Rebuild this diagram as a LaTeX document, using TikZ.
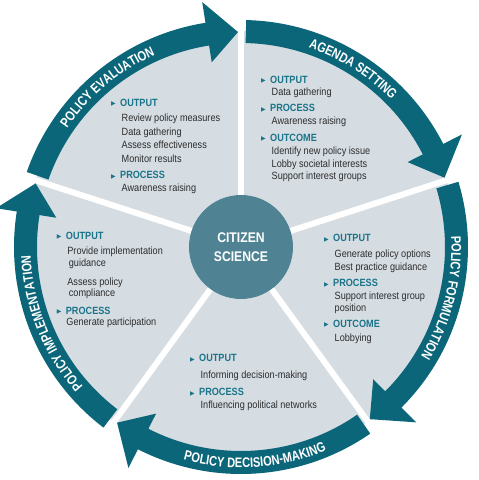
\documentclass[tikz,border=0pt]{standalone}
\usepackage{fontspec}
\setmainfont{Liberation Sans}[FakeStretch=0.87]
\newfontfamily\symfont{DejaVu Sans}
\newfontfamily\labelfont{Liberation Sans}[FakeStretch=0.8]
\usetikzlibrary{decorations.text}

\definecolor{arrowteal}{HTML}{0C667A}
\definecolor{headteal}{HTML}{1A7489}
\definecolor{hubteal}{HTML}{4F8393}
\definecolor{wheelgray}{HTML}{D5DDE3}
\definecolor{bodygray}{HTML}{2C2C2C}

% heading with pointer, and indent of the lines below it
\newcommand{\hd}[1]{\rule{0pt}{8pt}\textcolor{headteal}{\makebox[9pt][l]{\raisebox{0.6pt}{\symfont\fontsize{6}{6}\selectfont ▶}}\textbf{#1}}}
\newcommand{\bodyin}{\hspace*{10.5pt}}

\tikzset{
  block/.style={anchor=north west, inner sep=0, align=left, text=bodygray},
  hub/.style={circle, fill=hubteal, minimum size=104, inner sep=0, text=white,
    align=center, font=\fontsize{14}{19}\selectfont\bfseries},
  gap/.style={white, line width=6},
  bandlabel/.style={decorate, decoration={text along path, text align=center,
    text color=white, text={|\labelfont\fontsize{13.8}{13.8}\selectfont\bfseries|#1}}}
}

\begin{document}
\begin{tikzpicture}[x=1pt, y=1pt]
\useasboundingbox (-241,-233) rectangle (238,247);
%
% policy cycle round citizen science

%% wheel and the white gaps
\coordinate (o) at (0,0);
\fill[wheelgray] (o) circle (216);
\foreach \g in {162,90,18,-54,-126}
  \draw[gap] (o) -- (\g:240);
\node[hub] (hub) at (o) {CITIZEN\\SCIENCE};

%% arrows, clockwise, one per stage
\foreach \g in {162,90,18,-54,-126}{
  \pgfmathsetmacro{\tl}{\g-1.3}
  \pgfmathsetmacro{\hb}{\g-72+9}
  \pgfmathsetmacro{\tp}{\g-72+0.8}
  \fill[arrowteal] (\tl:227) arc (\tl:\hb:227) -- (\hb:248) -- (\tp:215)
    -- (\hb:187) -- (\hb:204) arc (\hb:\tl:204) -- cycle;
}

%% stage names
\path[bandlabel={POLICY EVALUATION}] (160.7:210.5) arc (160.7:99:210.5);
\path[bandlabel={AGENDA SETTING}] (88.7:210.5) arc (88.7:27:210.5);
\path[bandlabel={POLICY FORMULATION}] (16.7:210.5) arc (16.7:-45:210.5);
\path[bandlabel={POLICY DECISION-MAKING}] (-117:220.5) arc (-117:-55.3:220.5);
\path[bandlabel={POLICY IMPLEMENTATION}] (232.7:210.5) arc (232.7:171:210.5);

%% what citizen science gives at each stage
\node[block, font=\fontsize{10.5}{13.5}\selectfont] (evaltext) at (-130,149) {
  \hd{OUTPUT}\\[2.2pt]
  \bodyin Review policy measures\\
  \bodyin Data gathering\\
  \bodyin Assess effectiveness\\
  \bodyin Monitor results\\[3pt]
  \hd{PROCESS}\\[-0.5pt]
  \bodyin Awareness raising};

\node[block, font=\fontsize{10.5}{12.5}\selectfont] (agendatext) at (20,171.7) {
  \hd{OUTPUT}\\[-0.5pt]
  \bodyin Data gathering\\[3.9pt]
  \hd{PROCESS}\\[-0.2pt]
  \bodyin Awareness raising\\[4.5pt]
  \hd{OUTCOME}\\[0.8pt]
  \bodyin Identify new policy issue\\
  \bodyin Lobby societal interests\\
  \bodyin Support interest groups};

\node[block, font=\fontsize{10.5}{12.5}\selectfont] (formtext) at (83,13.3) {
  \hd{OUTPUT}\\[3.1pt]
  \bodyin Generate policy options\\[0.2pt]
  \bodyin Best practice guidance\\[4.2pt]
  \hd{PROCESS}\\[-0.2pt]
  \bodyin Support interest group\\[-0.5pt]
  \bodyin position\\[3.8pt]
  \hd{OUTCOME}\\[1.9pt]
  \bodyin Lobbying};

\node[block, font=\fontsize{10.5}{13}\selectfont] (decitext) at (-51,-106.7) {
  \hd{OUTPUT}\\[3.6pt]
  \bodyin Informing decision-making\\[4.4pt]
  \hd{PROCESS}\\
  \bodyin Influencing political networks};

\node[block, font=\fontsize{10.5}{12.5}\selectfont] (impltext) at (-184.3,15.7) {
  \hd{OUTPUT}\\[2.2pt]
  \bodyin Provide implementation\\[0.2pt]
  \hspace*{12pt}guidance\\[5.8pt]
  \bodyin Assess policy\\[-1.5pt]
  \hspace*{12pt}compliance\\[5.5pt]
  \hd{PROCESS}\\[-1.5pt]
  \hspace*{9.5pt}Generate participation};
\end{tikzpicture}
\end{document}
